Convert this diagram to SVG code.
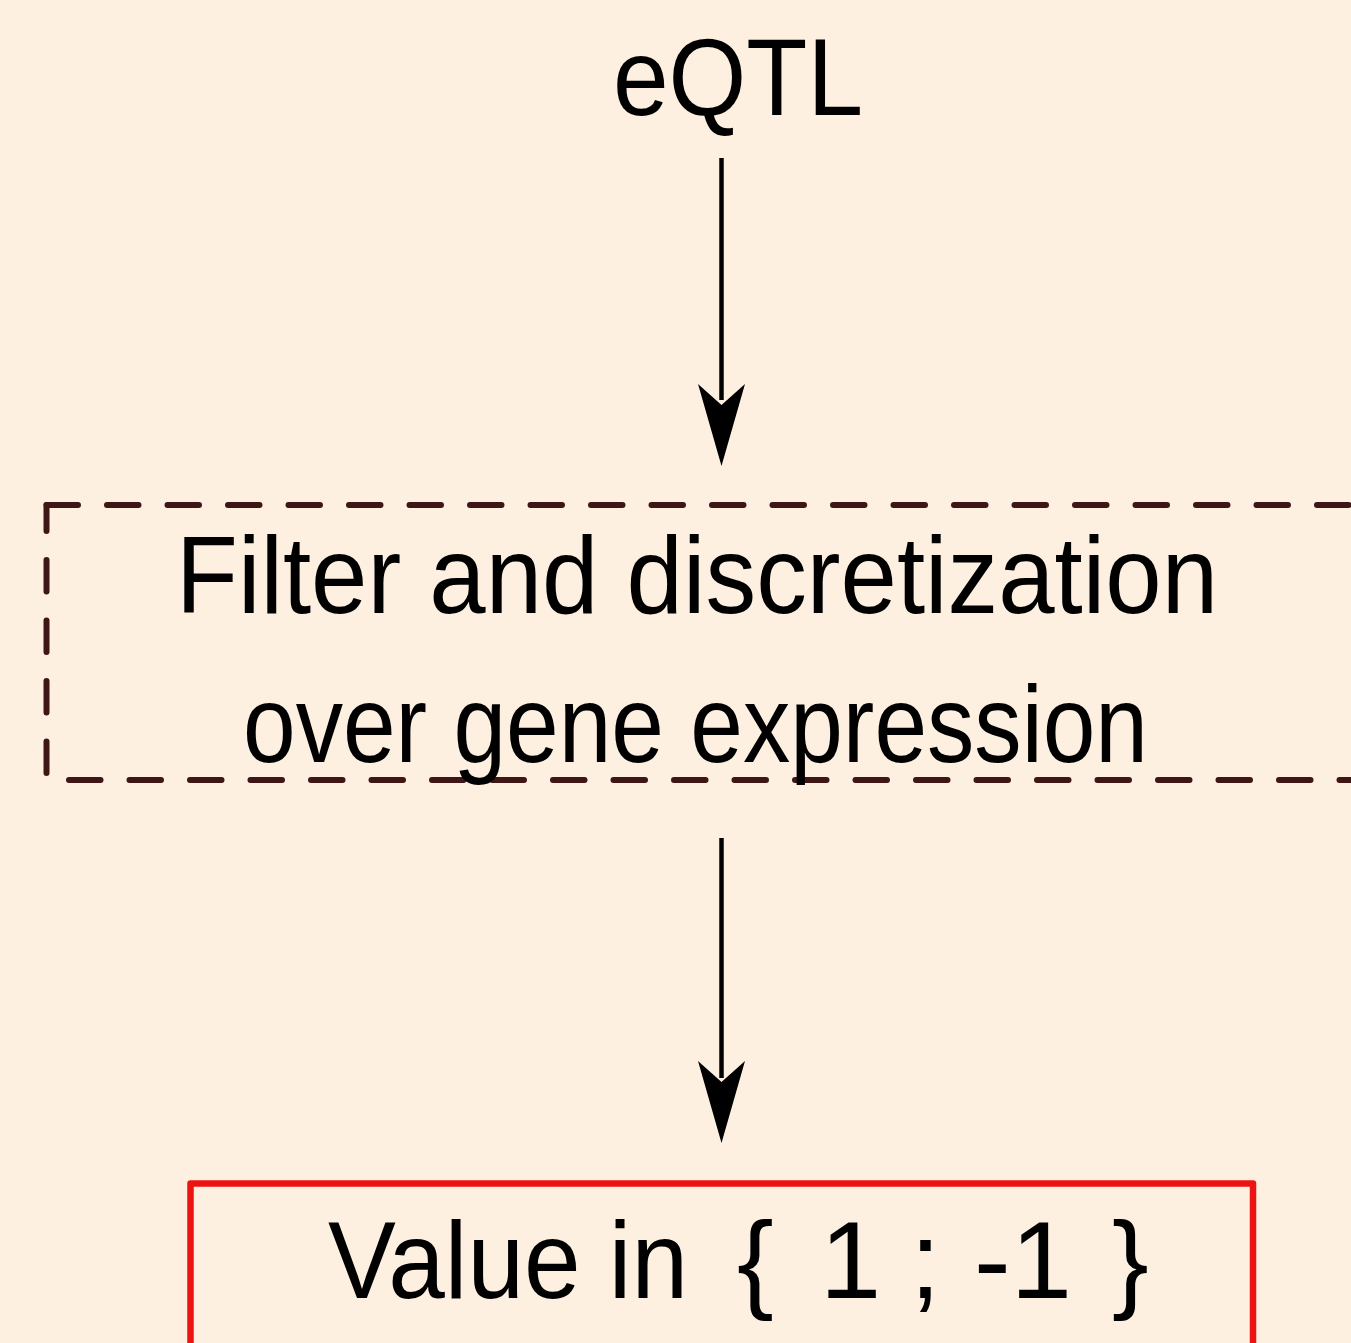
<svg xmlns="http://www.w3.org/2000/svg" width="1351" height="1343" viewBox="0 0 1351 1343">
<style>
.lbl{font-family:"Liberation Sans",Arial,sans-serif;font-size:110px;fill:#000;text-anchor:middle}
.start{text-anchor:start}
.dash{fill:none;stroke:#3f1616;stroke-width:6;stroke-linecap:round;stroke-dasharray:31.5 29}
.conn{stroke:#000;stroke-width:4.5;fill:none}
.head{fill:#000}
</style>
<rect width="1351" height="1343" fill="#fdf0e1"/>
<g id="node-eqtl">
<text class="lbl" x="738" y="115" textLength="250" lengthAdjust="spacingAndGlyphs">eQTL</text>
</g>
<g id="node-filter">
<path class="dash" d="M46.5,505 H1380"/>
<path class="dash" d="M46.5,505 V780" stroke-dashoffset="5.5"/>
<path class="dash" d="M46.5,780 H1380" stroke-dashoffset="38"/>
<text class="lbl" x="697" y="613" textLength="1042" lengthAdjust="spacingAndGlyphs">Filter and discretization</text>
<text class="lbl" x="695.5" y="762" textLength="905" lengthAdjust="spacingAndGlyphs">over gene expression</text>
</g>
<g id="node-value">
<path d="M190.5,1400 V1183.5 H1253 V1400" fill="none" stroke="#ed1313" stroke-width="6.5" stroke-linejoin="round"/>
<text class="lbl start" y="1298"><tspan x="328" textLength="360" lengthAdjust="spacingAndGlyphs">Value in</tspan> <tspan x="737">{</tspan> <tspan x="820">1</tspan> <tspan x="910">;</tspan> <tspan x="974">-1</tspan> <tspan x="1112">}</tspan></text>
</g>
<g id="connectors">
<line class="conn" x1="721.5" y1="158" x2="721.5" y2="400"/>
<path class="head" d="M721.5,466 L698,384 L721.5,405 L745,384 Z"/>
<line class="conn" x1="721.5" y1="838" x2="721.5" y2="1078"/>
<path class="head" d="M721.5,1143 L698,1061 L721.5,1082 L745,1061 Z"/>
</g>
</svg>
